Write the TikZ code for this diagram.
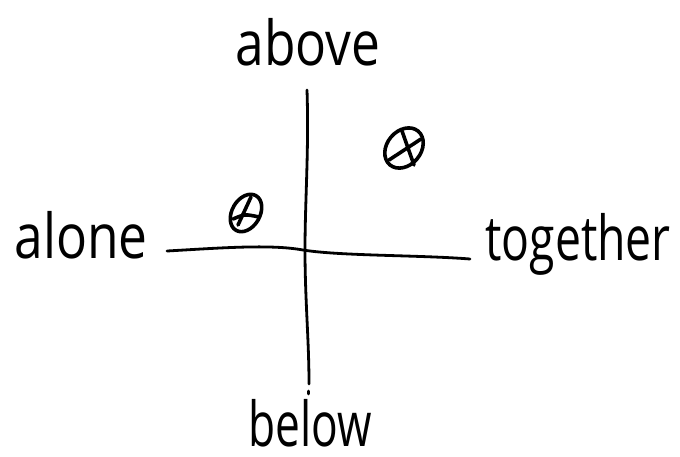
\documentclass[tikz,border=0pt]{standalone}
\usepackage{fontspec}
\setmainfont[FakeStretch=0.83]{Open Sans}
\begin{document}
\begin{tikzpicture}[x=1pt,y=-1pt,
  lbl/.style={anchor=base,inner sep=0pt,font=\fontsize{62}{62}\selectfont},
  ink/.style={line width=2.8pt,line cap=round,line join=round,black}]
\useasboundingbox[fill=white] (0,0) rectangle (680,456);
% labels
\node[lbl] (above) at (308,65) {above};
\node[lbl] (alone) at (81,258) {alone};
\node[lbl] (together) at (578,260) {\scalebox{0.9}[1]{together}};
\node[lbl] (below) at (310,446) {\scalebox{0.86}[1]{below}};
% axes
\coordinate (hL) at (167,251);
\coordinate (hR) at (470,259);
\coordinate (vT) at (307,90);
\coordinate (vB) at (309,384);
\draw[ink] (hL) .. controls (220,248) and (270,244) .. (303,250)
  .. controls (340,256) and (420,255) .. (hR);
\draw[ink] (vT) .. controls (309,150) and (305,200) .. (305,250)
  .. controls (305,300) and (309,340) .. (vB);
\draw[ink] (308.5,391) -- (308.5,394);
% markers
\begin{scope}[ink,line width=3.6pt]
  \draw[rotate around={50:(404,148)}] (404,148) ellipse (22 and 17);
  \draw (402,131) -- (414,165);
  \draw (389,160) -- (421,139);
  \draw[rotate around={60:(246,213)}] (246,213) ellipse (20 and 14);
  \draw (251,197) -- (238,225);
  \draw (233,219) .. controls (245,214) .. (259,217);
\end{scope}
\end{tikzpicture}
\end{document}
